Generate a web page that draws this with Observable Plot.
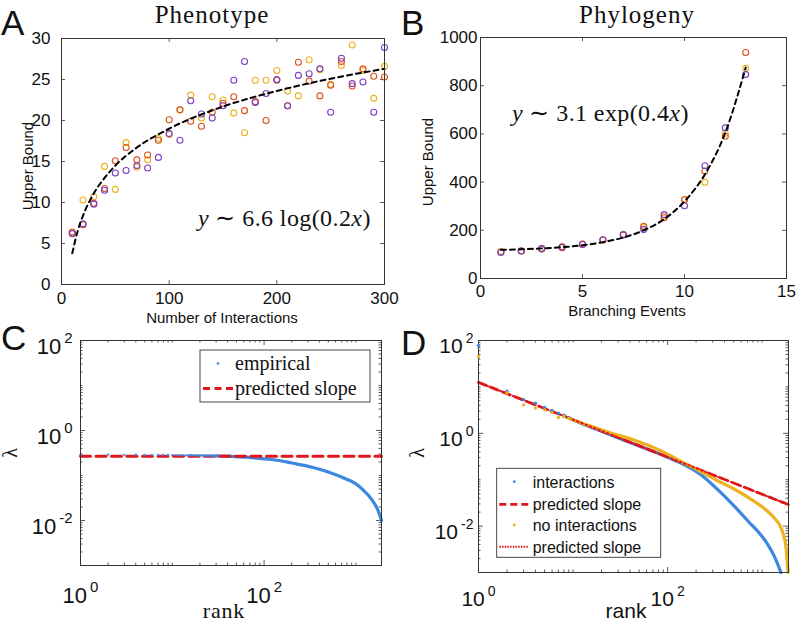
<!DOCTYPE html>
<html><head><meta charset="utf-8">
<script src="https://cdn.jsdelivr.net/npm/d3@7"></script>
<script src="https://cdn.jsdelivr.net/npm/@observablehq/plot@0.6"></script>
<style>
html,body{margin:0;padding:0;background:#fff;}
#root{position:relative;width:796px;height:627px;overflow:hidden;background:#fff;}
.panel{position:absolute;}
.panel svg{display:block;overflow:visible;}
#overlay{position:absolute;left:0;top:0;}
</style></head><body><div id="root"></div>
<script>
// ---------------- Panel A: Phenotype ----------------
const interactions = [10,20,30,40,50,60,70,80,90,100,110,120,130,140,150,160,170,180,190,200,210,220,230,240,250,260,270,280,290,300];
const phenoPurple = [6.2,7.4,9.8,11.5,13.6,13.9,14.5,14.2,15.5,18.4,17.6,22.4,20.8,20.3,21.8,24.9,27.2,22.2,23.3,25.0,21.8,25.5,25.7,26.3,21.0,27.6,24.5,24.7,21.0,28.9];
const phenoRed    = [6.4,7.3,9.9,11.7,15.1,16.7,15.2,15.8,17.6,20.1,21.3,19.9,19.3,21.0,22.1,22.9,21.2,22.3,20.0,24.9,21.8,27.1,24.8,23.0,24.3,27.2,24.2,26.3,25.4,25.3];
const phenoYellow = [6.3,10.3,10.7,14.4,11.6,17.3,14.3,15.2,17.8,18.3,21.3,23.1,20.3,22.9,22.5,20.9,18.5,24.9,24.9,26.1,23.6,23.0,27.4,26.2,24.4,26.7,29.2,26.1,22.7,26.6];
const phenoFitX = [10,15,20,30,40,50,70,100,150,200,250,300];
const phenoFitY = [3.8,6.5,8.4,11.1,13.0,14.5,16.7,19.0,21.7,23.6,25.1,26.3];
const ticksAX = [0,100,200,300];
const ticksAY = [0,5,10,15,20,25,30];

// ---------------- Panel B: Phylogeny ----------------
const branching = [1,2,3,4,5,6,7,8,9,10,11,12,13];
const phyloPurple = [108,114,124,131,141,161,182,203,265,302,468,625,846];
const phyloRed    = [110,114,122,128,143,160,180,217,252,328,446,590,938];
const phyloYellow = [112,115,125,133,143,159,183,212,258,326,399,603,872];
const phyloFitY   = [119,121,125,130,138,151,170,200,246,320,432,605,875];
const ticksBX = [0,5,10,15];
const ticksBY = [0,200,400,600,800,1000];

// ---------------- Panel C: eigenvalue spectrum (phenotype) ----------------
const empRankLow = [1,2,3,4,5,6,7,8,9,10,11,12,13,14,15,16,17,18,19,20,21,22,23,24,25,26,27,28,29,30];
const empLambdaLow = [0.290,0.291,0.288,0.289,0.287,0.286,0.287,0.285,0.285,0.284,0.284,0.283,0.283,0.282,0.282,0.281,0.281,0.280,0.280,0.279,0.279,0.278,0.278,0.277,0.277,0.276,0.276,0.275,0.275,0.274];
const empRankTail = [30,41,63,100,145,200,333,500,770,1000,1170,1510,1780,1900];
const empLambdaTail = [0.274,0.270,0.255,0.235,0.215,0.190,0.153,0.120,0.085,0.065,0.050,0.028,0.015,0.010];
const predCRank = [1,1900];
const predCLambda = [0.267,0.267];

// ---------------- Panel D: eigenvalue spectrum (phylogeny) ----------------
const interRankLow = [1,2,3,4,5,6,7,8,9];
const interLambdaLow = [78,8.1,5.3,4.45,3.6,3.1,2.7,2.45,2.2];
const interRankTail = [9,10,20,50,100,138,225,337,507,760,931,1140,1343,1580];
const interLambdaTail = [2.15,1.95,1.1,0.53,0.305,0.228,0.128,0.062,0.027,0.011,0.0071,0.0041,0.00225,0.001];
const noInterRankLow = [1,2,3,4,5,6,7,8,9];
const noInterLambdaLow = [45,7.4,4.1,3.5,3.2,2.8,2.2,2.3,2.1];
const noInterRankTail = [9,10,15,25,44,70,100,140,225,337,505,760,1140,1343,1580,1689,1790,1880];
const noInterLambdaTail = [2.1,1.95,1.45,1.02,0.72,0.5,0.355,0.245,0.15,0.095,0.063,0.038,0.021,0.0149,0.0093,0.0062,0.00345,0.001];
const predDRank = [1,1900];
const predDLambda = [12.5,0.029];

const legendC = ["empirical","predicted slope"];
const legendD = ["interactions","predicted slope","no interactions","predicted slope"];

// ---------------- styles ----------------
const SANS = "'Liberation Sans', Arial, Helvetica, sans-serif";
const SERIF = "'Liberation Serif', 'Times New Roman', serif";
const PURPLE="#7b3fc4", RED="#d9531e", YELLOW="#edb120", BLUE="#3d87e0", PRED="#e0161b", INK="#333";
const NS = "http://www.w3.org/2000/svg";
const root = document.getElementById("root");

function place(el, left, top){
  const d = document.createElement("div");
  d.className = "panel"; d.style.left = left+"px"; d.style.top = top+"px";
  d.appendChild(el); root.appendChild(d);
}
function edgeTicks(xs, ys, fw, fh, len){
  const o = {stroke: INK, strokeWidth: 0.8};
  return [
    Plot.tickX(xs, {x: d=>d, insetTop: fh-len, ...o}),
    Plot.tickX(xs, {x: d=>d, insetBottom: fh-len, ...o}),
    Plot.tickY(ys, {y: d=>d, insetRight: fw-len, ...o}),
    Plot.tickY(ys, {y: d=>d, insetLeft: fw-len, ...o})
  ];
}
function superscripts(svg, opts){
  svg.querySelectorAll("text").forEach(t=>{
    const m = /^([XY])10\^(-?\d+)$/.exec(t.textContent.trim());
    if(!m) return;
    const o = m[1]==="X" ? opts.x : opts.y;
    t.textContent = "";
    const a = document.createElementNS(NS,"tspan"); a.textContent = "10";
    const b = document.createElementNS(NS,"tspan");
    b.setAttribute("dx", o.gap); b.setAttribute("dy", -o.raise); b.setAttribute("font-size", o.sup);
    b.textContent = m[2];
    t.append(a,b);
    if (o.shift) {
      const tr = t.getAttribute("transform") || "";
      t.setAttribute("transform", (tr+" translate(0,"+o.shift+")").trim());
    }
  });
}
const logFmt = p => d => p + "10^" + Math.round(Math.log10(d));

// ---------------- Panel A ----------------
{
  const W=400,H=320,ml=61,mr=16,mt=38,mb=36, fw=W-ml-mr, fh=H-mt-mb;
  const svg = Plot.plot({
    width:W, height:H, marginLeft:ml, marginRight:mr, marginTop:mt, marginBottom:mb,
    style:{fontFamily:SANS, fontSize:"17px", color:"#111", background:"none", overflow:"visible"},
    x:{domain:[0,300], ticks:ticksAX, tickSize:0, tickPadding:7, label:null, tickFormat:d=>String(d)},
    y:{domain:[0,30], ticks:ticksAY, tickSize:0, tickPadding:11, label:null, tickFormat:d=>String(d)},
    marks:[
      ...edgeTicks(ticksAX, ticksAY, fw, fh, 4),
      Plot.dot(interactions, {x:d=>d, y:(d,i)=>phenoYellow[i], r:3, stroke:YELLOW, strokeWidth:1.1}),
      Plot.dot(interactions, {x:d=>d, y:(d,i)=>phenoRed[i], r:3, stroke:RED, strokeWidth:1.1}),
      Plot.dot(interactions, {x:d=>d, y:(d,i)=>phenoPurple[i], r:3, stroke:PURPLE, strokeWidth:1.1}),
      Plot.line(phenoFitX, {x:d=>d, y:(d,i)=>phenoFitY[i], stroke:"#000", strokeWidth:2, strokeDasharray:"5,4", curve:"monotone-x"}),
      Plot.frame({stroke:INK, strokeWidth:1})
    ]
  });
  place(svg, 0, 0);
}
// ---------------- Panel B ----------------
{
  const W=396,H=320,ml=80,mr=10,mt=37,mb=42, fw=W-ml-mr, fh=H-mt-mb;
  const svg = Plot.plot({
    width:W, height:H, marginLeft:ml, marginRight:mr, marginTop:mt, marginBottom:mb,
    style:{fontFamily:SANS, fontSize:"17px", color:"#111", background:"none", overflow:"visible"},
    x:{domain:[0,15], ticks:ticksBX, tickSize:0, tickPadding:6, label:null, tickFormat:d=>String(d)},
    y:{domain:[0,1000], ticks:ticksBY, tickSize:0, tickPadding:3, label:null, tickFormat:d=>String(d)},
    marks:[
      ...edgeTicks(ticksBX, ticksBY, fw, fh, 4),
      Plot.dot(branching, {x:d=>d, y:(d,i)=>phyloYellow[i], r:3, stroke:YELLOW, strokeWidth:1.1}),
      Plot.dot(branching, {x:d=>d, y:(d,i)=>phyloRed[i], r:3, stroke:RED, strokeWidth:1.1}),
      Plot.dot(branching, {x:d=>d, y:(d,i)=>phyloPurple[i], r:3, stroke:PURPLE, strokeWidth:1.1}),
      Plot.line(branching, {x:d=>d, y:(d,i)=>phyloFitY[i], stroke:"#000", strokeWidth:2, strokeDasharray:"5,4", curve:"monotone-x"}),
      Plot.frame({stroke:INK, strokeWidth:1})
    ]
  });
  place(svg, 400, 0);
}
// ---------------- Panel C ----------------
{
  const W=400,H=307,ml=80,mr=19,mt=20,mb=62, fw=W-ml-mr, fh=H-mt-mb;
  const xMaj=[1,100], yMaj=[0.01,1,100];
  const xMin=d3.scaleLog().domain([1,1900]).ticks().filter(v=>!xMaj.includes(v));
  const yMin=d3.scaleLog().domain([1e-3,1e2]).ticks().filter(v=>!yMaj.some(m=>Math.abs(m-v)<1e-12));
  const svg = Plot.plot({
    width:W, height:H, marginLeft:ml, marginRight:mr, marginTop:mt, marginBottom:mb,
    style:{fontFamily:SANS, fontSize:"22px", color:"#111", background:"none", overflow:"visible"},
    x:{type:"log", domain:[1,1900], ticks:xMaj, tickSize:0, tickPadding:22, label:null, tickFormat:logFmt("X")},
    y:{type:"log", domain:[1e-3,1e2], ticks:yMaj, tickSize:0, tickPadding:8, label:null, tickFormat:logFmt("Y")},
    marks:[
      ...edgeTicks(xMaj, yMaj, fw, fh, 5),
      ...edgeTicks(xMin, yMin, fw, fh, 2.5),
      Plot.line(empRankTail, {x:d=>d, y:(d,i)=>empLambdaTail[i], stroke:BLUE, strokeWidth:3.2, curve:"monotone-x"}),
      Plot.line(predCRank, {x:d=>d, y:(d,i)=>predCLambda[i], stroke:PRED, strokeWidth:3, strokeDasharray:"10,5.5"}),
      Plot.dot(empRankLow, {x:d=>d, y:(d,i)=>empLambdaLow[i], r:1.2, fill:BLUE}),
      Plot.frame({stroke:INK, strokeWidth:1})
    ]
  });
  superscripts(svg, {x:{gap:3, raise:11, sup:"15px"}, y:{gap:3, raise:11, sup:"15px", shift:6}});
  place(svg, 0, 320);
}
// ---------------- Panel D ----------------
{
  const W=396,H=307,ml=78,mr=8,mt=20,mb=55, fw=W-ml-mr, fh=H-mt-mb;
  const xMaj=[1,100], yMaj=[0.01,1,100];
  const xMin=d3.scaleLog().domain([1,1900]).ticks().filter(v=>!xMaj.includes(v));
  const yMin=d3.scaleLog().domain([1e-3,1e2]).ticks().filter(v=>!yMaj.some(m=>Math.abs(m-v)<1e-12));
  const svg = Plot.plot({
    width:W, height:H, marginLeft:ml, marginRight:mr, marginTop:mt, marginBottom:mb,
    style:{fontFamily:SANS, fontSize:"21px", color:"#111", background:"none", overflow:"visible"},
    x:{type:"log", domain:[1,1900], ticks:xMaj, tickSize:0, tickPadding:19, label:null, tickFormat:logFmt("X")},
    y:{type:"log", domain:[1e-3,1e2], ticks:yMaj, tickSize:0, tickPadding:5, label:null, tickFormat:logFmt("Y")},
    marks:[
      ...edgeTicks(xMaj, yMaj, fw, fh, 5),
      ...edgeTicks(xMin, yMin, fw, fh, 2.5),
      Plot.line(interRankTail, {x:d=>d, y:(d,i)=>interLambdaTail[i], stroke:BLUE, strokeWidth:3.2, curve:"monotone-x"}),
      Plot.line(predDRank, {x:d=>d, y:(d,i)=>predDLambda[i], stroke:PRED, strokeWidth:2.8, strokeDasharray:"8,5"}),
      Plot.line(noInterRankTail, {x:d=>d, y:(d,i)=>noInterLambdaTail[i], stroke:YELLOW, strokeWidth:3.2, curve:"monotone-x"}),
      Plot.line(predDRank, {x:d=>d, y:(d,i)=>predDLambda[i], stroke:PRED, strokeWidth:2, strokeDasharray:"1.6,3"}),
      Plot.frame({stroke:INK, strokeWidth:1}),
      Plot.dot(interRankLow, {x:d=>d, y:(d,i)=>interLambdaLow[i], r:1.7, fill:BLUE}),
      Plot.dot(noInterRankLow, {x:d=>d, y:(d,i)=>noInterLambdaLow[i], r:1.7, fill:YELLOW})
    ]
  });
  superscripts(svg, {x:{gap:3, raise:10, sup:"14px"}, y:{gap:3, raise:10, sup:"14px", shift:6}});
  place(svg, 400, 320);
}

// ---------------- overlay: letters, titles, labels, equations, legends ----------------
{
  const s = d3.create("svg").attr("id","overlay").attr("width",796).attr("height",627)
    .attr("viewBox","0 0 796 627").style("overflow","visible");
  const txt = (x,y,str,o={}) => {
    const t = s.append("text").attr("x",x).attr("y",y).text(str)
      .attr("font-family", o.family||SANS).attr("font-size", o.size||15).attr("fill", o.fill||"#111")
      .attr("text-anchor", o.anchor||"start");
    if (o.ls) t.attr("letter-spacing", o.ls);
    if (o.rotate!=null) t.attr("transform", `rotate(${o.rotate},${x},${y})`);
    return t;
  };
  // panel letters
  txt(1,35,"A",{size:35}); txt(401,35,"B",{size:35});
  txt(1,350,"C",{size:35}); txt(401,355,"D",{size:35});
  // titles
  txt(212,22.5,"Phenotype",{family:SERIF,size:25,anchor:"middle",ls:1});
  txt(637,22.5,"Phylogeny",{family:SERIF,size:25,anchor:"middle",ls:1});
  // axis labels A/B
  txt(222,323,"Number of Interactions",{size:15,anchor:"middle"});
  txt(627,315.5,"Branching Events",{size:15,anchor:"middle"});
  txt(33,166,"Upper Bound",{size:15,anchor:"middle",rotate:-90});
  txt(433,162,"Upper Bound",{size:15,anchor:"middle",rotate:-90});
  // axis labels C/D
  txt(224,618,"rank",{family:SERIF,size:22,anchor:"middle",ls:0.8});
  txt(626,618,"rank",{size:21,anchor:"middle"});
  txt(17,453,"λ",{family:SERIF,size:20,anchor:"middle",rotate:-90});
  txt(424,453,"λ",{family:SERIF,size:20,anchor:"middle",rotate:-90});
  // equations
  const eq = (x,y,coef,fn,arg) => {
    const t = s.append("text").attr("x",x).attr("y",y).attr("font-family",SERIF)
      .attr("font-size",24).attr("fill","#111").attr("letter-spacing",0.4);
    t.append("tspan").attr("font-style","italic").text("y");
    t.append("tspan").text(" ∼ "+coef+" "+fn+"("+arg);
    t.append("tspan").attr("font-style","italic").text("x");
    t.append("tspan").text(")");
  };
  eq(198,226,"6.6","log","0.2");
  eq(512,121,"3.1","exp","0.4");
  // legend C
  s.append("rect").attr("x",200).attr("y",350).attr("width",170).attr("height",52)
    .attr("fill","#fff").attr("stroke","#333").attr("stroke-width",0.9);
  s.append("circle").attr("cx",218).attr("cy",363.5).attr("r",1.3).attr("fill",BLUE);
  txt(235,370,legendC[0],{family:SERIF,size:20});
  s.append("line").attr("x1",203).attr("x2",233).attr("y1",388.5).attr("y2",388.5)
    .attr("stroke",PRED).attr("stroke-width",3).attr("stroke-dasharray","7,4.5");
  txt(235,395,legendC[1],{family:SERIF,size:20});
  // legend D
  s.append("rect").attr("x",496.7).attr("y",468.3).attr("width",164).attr("height",89)
    .attr("fill","#fff").attr("stroke","#333").attr("stroke-width",0.9);
  const rowsD = [481.7,504.3,525,546.7];
  s.append("circle").attr("cx",514.3).attr("cy",rowsD[0]).attr("r",1.4).attr("fill",BLUE);
  s.append("line").attr("x1",499.3).attr("x2",528.3).attr("y1",rowsD[1]).attr("y2",rowsD[1])
    .attr("stroke",PRED).attr("stroke-width",2.8).attr("stroke-dasharray","7,4");
  s.append("circle").attr("cx",514.3).attr("cy",rowsD[2]).attr("r",1.4).attr("fill",YELLOW);
  s.append("line").attr("x1",499.3).attr("x2",528.3).attr("y1",rowsD[3]).attr("y2",rowsD[3])
    .attr("stroke",PRED).attr("stroke-width",2).attr("stroke-dasharray","1.5,1.2");
  legendD.forEach((l,i)=>txt(532.7,rowsD[i]+5.8,l,{size:16}));
  root.appendChild(s.node());
}
</script></body></html>
